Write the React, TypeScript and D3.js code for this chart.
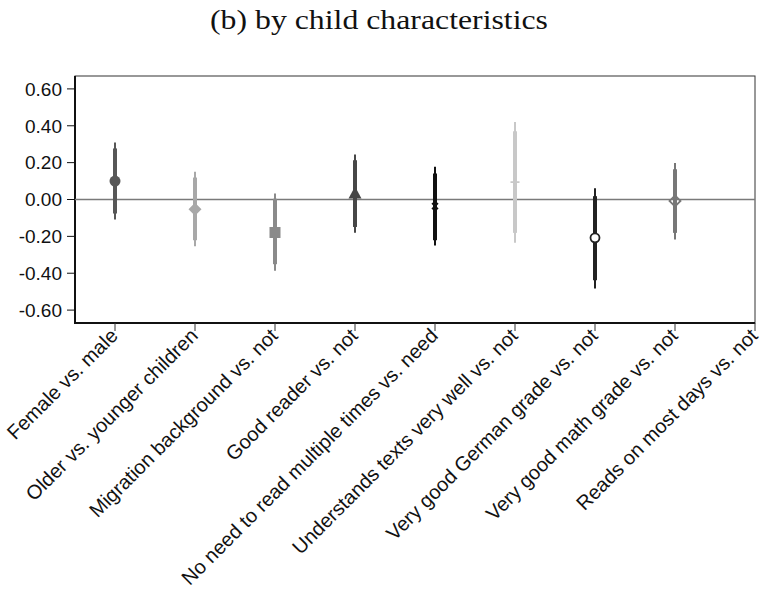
import React from 'react'
import * as d3 from 'd3';

// comparisons on the x axis
const categories = [
  "Female vs. male",
  "Older vs. younger children",
  "Migration background vs. not",
  "Good reader vs. not",
  "No need to read multiple times vs. need",
  "Understands texts very well vs. not",
  "Very good German grade vs. not",
  "Very good math grade vs. not",
  "Reads on most days vs. not",
];

// point estimates and intervals (null = not estimated)
const estimates = [0.10, -0.053, -0.179, 0.033, -0.036, 0.094, -0.208, -0.008, null];
const ci90Low = [-0.076, -0.221, -0.351, -0.149, -0.221, -0.181, -0.438, -0.181, null];
const ci90High = [0.277, 0.119, 0.004, 0.213, 0.141, 0.37, 0.018, 0.164, null];
const ci95Low = [-0.108, -0.253, -0.387, -0.181, -0.25, -0.235, -0.483, -0.217, null];
const ci95High = [0.309, 0.15, 0.033, 0.244, 0.177, 0.421, 0.061, 0.198, null];

const markerShapes = ["circle", "diamond", "square", "triangle", "x", "plus", "circleHollow", "diamondHollow", "none"];
const colors = ["#575757", "#a8a8a8", "#8a8a8a", "#474747", "#111111", "#c8c8c8", "#222222", "#777777", "#000000"];

const yTicks = [0.6, 0.4, 0.2, 0, -0.2, -0.4, -0.6];

const layout = {width: 764, height: 594, left: 75, right: 755, top: 76, bottom: 323};

const Marker = ({shape, x, y, color}) => {
  switch (shape) {
    case "circle":
      return <circle cx={x} cy={y} r={5.5} fill={color} />
    case "diamond":
      return <path d={`M${x},${y - 6.5}L${x + 6.5},${y}L${x},${y + 6.5}L${x - 6.5},${y}Z`} fill={color} />
    case "square":
      return <rect x={x - 5.5} y={y - 5.5} width={11} height={11} fill={color} />
    case "triangle":
      return <path d={`M${x},${y - 7}L${x + 6.5},${y + 5}L${x - 6.5},${y + 5}Z`} fill={color} />
    case "x":
      return <path d={`M${x - 3},${y - 3}L${x + 3},${y + 3}M${x + 3},${y - 3}L${x - 3},${y + 3}`} stroke={color} strokeWidth={1.6} />
    case "plus":
      return <path d={`M${x - 4.5},${y}L${x + 4.5},${y}M${x},${y - 4.5}L${x},${y + 4.5}`} stroke={color} strokeWidth={1.6} />
    case "circleHollow":
      return <circle cx={x} cy={y} r={4.5} fill="white" stroke={color} strokeWidth={1.8} />
    case "diamondHollow":
      return <path d={`M${x},${y - 5.5}L${x + 5.5},${y}L${x},${y + 5.5}L${x - 5.5},${y}Z`} fill="none" stroke={color} strokeWidth={1.8} />
    default:
      return null
  }
}

export default function App() {
  const xScale = d3.scalePoint()
    .domain(categories)
    .range([115, layout.right]);

  const yScale = d3.scaleLinear()
    .domain([-0.67, 0.67])
    .range([layout.bottom, layout.top]);

  const font = "'Liberation Sans', Arial, sans-serif";

  return (
    <div style={{position: "absolute", left: 0, top: 0}}>
      <svg width={layout.width} height={layout.height}>
        <text x={379} y={29} textAnchor="middle" fontFamily="'Liberation Serif', serif" fontSize={27}
              textLength={338} lengthAdjust="spacingAndGlyphs" fill="#111">(b) by child characteristics</text>

        {/* frame */}
        <rect x={layout.left} y={layout.top} width={layout.right - layout.left} height={layout.bottom - layout.top}
              fill="none" stroke="#333" strokeWidth={1} />
        <line x1={layout.left} x2={layout.left} y1={layout.top} y2={layout.bottom + 1} stroke="#111" strokeWidth={2} />
        <line x1={layout.left - 1} x2={layout.right} y1={layout.bottom} y2={layout.bottom} stroke="#111" strokeWidth={2} />

        {/* zero line */}
        <line x1={layout.left} x2={layout.right} y1={yScale(0)} y2={yScale(0)} stroke="#7a7a7a" strokeWidth={1.6} />

        {/* y axis */}
        {yTicks.map(t => (
          <g key={t} transform={`translate(0, ${yScale(t)})`}>
            <line x1={layout.left - 8} x2={layout.left} stroke="#111" strokeWidth={1} />
            <text x={layout.left - 13} dy="0.36em" textAnchor="end" fontFamily={font} fontSize={19} fill="#111">
              {d3.format(".2f")(t).replace("−", "-")}
            </text>
          </g>
        ))}

        {/* x axis */}
        {categories.map((c, i) => (
          <g key={c} transform={`translate(${xScale(c)}, ${layout.bottom})`}>
            <line y1={0} y2={8} stroke="#333" strokeWidth={1} />
            <text transform="translate(4, 14) rotate(-45)" textAnchor="end" fontFamily={font} fontSize={20} fill="#111">{c}</text>
          </g>
        ))}

        {/* estimates */}
        {categories.map((c, i) => {
          if (estimates[i] === null) return null;
          const x = xScale(c);
          return (
            <g key={c}>
              <line x1={x} x2={x} y1={yScale(ci95Low[i])} y2={yScale(ci95High[i])} stroke={colors[i]} strokeWidth={2} />
              <line x1={x} x2={x} y1={yScale(ci90Low[i])} y2={yScale(ci90High[i])} stroke={colors[i]} strokeWidth={4} />
              <Marker shape={markerShapes[i]} x={x} y={yScale(estimates[i])} color={colors[i]} />
            </g>
          )
        })}
      </svg>
    </div>
  )
}
